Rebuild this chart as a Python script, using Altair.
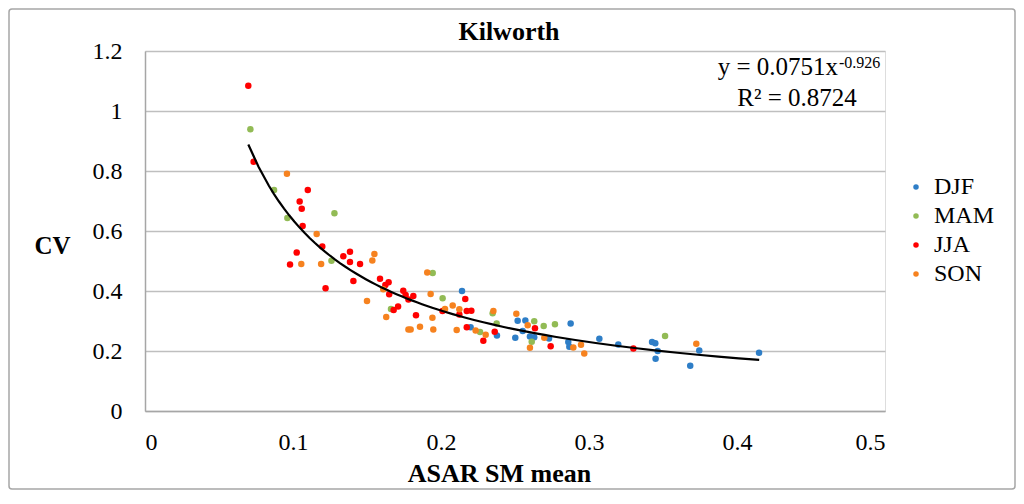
import altair as alt
import pandas as pd

seasons = ["DJF", "MAM", "JJA", "SON"]
colors = ["#2E7EC7", "#92BB55", "#FF0000", "#F6821F"]

djf_x = [0.2142, 0.220, 0.2378, 0.2518, 0.257, 0.2876, 0.2552, 0.2502, 0.2601, 0.263, 0.273, 0.286,
         0.2867, 0.307, 0.3198, 0.3426, 0.3448, 0.3464, 0.345, 0.3745, 0.3684, 0.4149]
djf_y = [0.400, 0.279, 0.252, 0.301, 0.302, 0.292, 0.267, 0.244, 0.248, 0.246, 0.242, 0.230,
         0.214, 0.241, 0.222, 0.230, 0.226, 0.200, 0.174, 0.202, 0.151, 0.194]

mam_x = [0.0712, 0.0872, 0.128, 0.0962, 0.126, 0.1944, 0.1662, 0.2011, 0.2264, 0.2349, 0.2376,
         0.263, 0.2694, 0.2770, 0.2613, 0.3514]
mam_y = [0.939, 0.737, 0.659, 0.643, 0.501, 0.460, 0.340, 0.376, 0.263, 0.326, 0.292,
         0.299, 0.283, 0.289, 0.231, 0.250]

jja_x = [0.0698, 0.0734, 0.110, 0.1045, 0.1059, 0.1065, 0.1198, 0.1025, 0.098, 0.122, 0.134, 0.1385,
         0.1385, 0.1453, 0.1408, 0.1588, 0.1624, 0.1646, 0.165, 0.1745, 0.1761, 0.178, 0.1813, 0.168,
         0.171, 0.1831, 0.2164, 0.2174, 0.2205, 0.201, 0.2124, 0.2174, 0.2286, 0.2363, 0.2635, 0.2741,
         0.330]
jja_y = [1.084, 0.831, 0.737, 0.698, 0.674, 0.617, 0.548, 0.528, 0.488, 0.409, 0.516, 0.531,
         0.497, 0.490, 0.433, 0.441, 0.420, 0.429, 0.389, 0.401, 0.387, 0.372, 0.383, 0.337,
         0.348, 0.319, 0.373, 0.333, 0.334, 0.333, 0.322, 0.279, 0.234, 0.264, 0.276, 0.216,
         0.208]

son_x = [0.0959, 0.116, 0.1056, 0.119, 0.155, 0.1536, 0.161, 0.150, 0.163, 0.178, 0.1795, 0.1858,
         0.1907, 0.193, 0.2079, 0.2124, 0.2027, 0.1942, 0.1948, 0.2106, 0.2234, 0.2302, 0.2354,
         0.2509, 0.2586, 0.2601, 0.2698, 0.2894, 0.2946, 0.2968, 0.3725]
son_y = [0.791, 0.590, 0.490, 0.490, 0.523, 0.502, 0.406, 0.367, 0.313, 0.272, 0.272, 0.281,
         0.462, 0.390, 0.352, 0.339, 0.340, 0.311, 0.272, 0.270, 0.268, 0.254, 0.333,
         0.324, 0.286, 0.211, 0.244, 0.212, 0.221, 0.192, 0.224]

x_ticks = [0, 0.1, 0.2, 0.3, 0.4, 0.5]
y_ticks = [0, 0.2, 0.4, 0.6, 0.8, 1.0, 1.2]
fit_extent = [0.0698, 0.415]

chart_title = ["Kilworth"]
x_title = "ASAR SM mean"
y_title = "CV"
eq_main = ["y = 0.0751x"]
eq_exp = ["-0.926"]
eq_r2 = ["R² = 0.8724"]

FONT = "Liberation Serif"

rows = []
for s, xs, ys in zip(seasons, [djf_x, mam_x, jja_x, son_x], [djf_y, mam_y, jja_y, son_y]):
    for a, b in zip(xs, ys):
        rows.append({"x": a, "y": b, "season": s})
df = pd.DataFrame(rows)

base = alt.Chart(df)

xenc = alt.X("x:Q", scale=alt.Scale(domain=[0, 0.5], nice=False),
             axis=alt.Axis(values=x_ticks, format="~g", title=x_title, grid=False,
                           ticks=False, domainColor="#A6A6A6", domainWidth=1.5,
                           labelFont=FONT, labelFontSize=24, labelColor="#000000", labelPadding=19,
                           titleFont=FONT, titleFontSize=26, titleFontWeight="bold",
                           titleColor="#000000", titlePadding=6, titleX=354, titleAlign="center"))
yenc = alt.Y("y:Q", scale=alt.Scale(domain=[0, 1.2], nice=False),
             axis=alt.Axis(values=y_ticks, format="~g", title=y_title, grid=True,
                           gridColor="#BFBFBF", gridWidth=1.5, ticks=False,
                           domainColor="#A6A6A6", domainWidth=1.5,
                           labelFont=FONT, labelFontSize=24, labelColor="#000000", labelPadding=23,
                           titleFont=FONT, titleFontSize=25, titleFontWeight="bold",
                           titleColor="#000000", titleAngle=0, titleX=-93, titleY=194,
                           titleAlign="center", titleBaseline="middle"))

points = base.mark_circle(size=42, opacity=1).encode(
    x=xenc, y=yenc,
    color=alt.Color("season:N", scale=alt.Scale(domain=seasons, range=colors),
                    legend=alt.Legend(title=None, orient="none", legendX=759, legendY=124,
                                      labelFont=FONT, labelFontSize=24, labelColor="#000000",
                                      symbolSize=30, symbolType="circle", rowPadding=5,
                                      labelOffset=6)),
)

fit = base.transform_regression("x", "y", method="pow", extent=fit_extent).mark_line(
    color="#000000", strokeWidth=2.2).encode(x="x:Q", y="y:Q")

title_mark = alt.Chart(pd.DataFrame({"t": chart_title})).mark_text(
    font=FONT, fontSize=26, fontWeight="bold", align="center", baseline="alphabetic",
    color="#000000").encode(x=alt.value(364), y=alt.value(-11), text="t:N")

eq1 = alt.Chart(pd.DataFrame({"t": eq_main})).mark_text(
    font=FONT, fontSize=25, align="right", baseline="alphabetic", color="#000000").encode(
    x=alt.value(693), y=alt.value(24), text="t:N")
eq2 = alt.Chart(pd.DataFrame({"t": eq_exp})).mark_text(
    font=FONT, fontSize=16, align="left", baseline="alphabetic", color="#000000").encode(
    x=alt.value(694), y=alt.value(17), text="t:N")
eq3 = alt.Chart(pd.DataFrame({"t": eq_r2})).mark_text(
    font=FONT, fontSize=25, align="center", baseline="alphabetic", color="#000000").encode(
    x=alt.value(652), y=alt.value(55), text="t:N")

border = alt.Chart(pd.DataFrame({"k": [0]})).mark_rect(
    fill=None, stroke="#A6A6A6", strokeWidth=1.5, cornerRadius=3).encode(
    x=alt.value(-136), x2=alt.value(870), y=alt.value(-42), y2=alt.value(438))

chart = alt.layer(border, points, fit, title_mark, eq1, eq2, eq3).properties(
    width=740, height=360,
    autosize=alt.AutoSizeParams(type="none"),
    padding={"left": 137, "top": 43, "right": 131, "bottom": 85},
).configure_view(stroke=None).configure(background="#FFFFFF")

chart.save("out.html", embed_options={"renderer": "svg", "actions": False})
